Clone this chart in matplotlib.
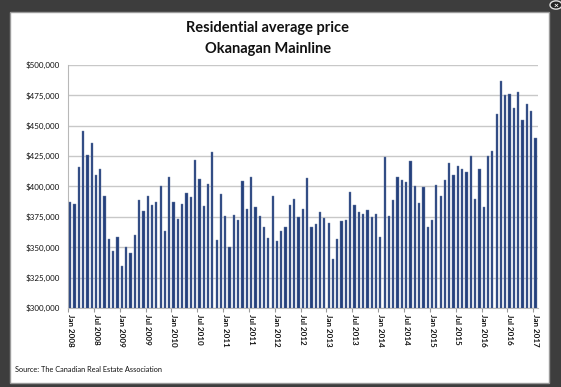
import matplotlib
matplotlib.use("Agg")
import matplotlib.pyplot as plt
from matplotlib.patches import Rectangle, Circle
from matplotlib.ticker import FuncFormatter, FixedLocator

# Monthly residential average price, Jan 2008 .. Jan 2017 (109 months)
prices = [
    386900, 385300, 416300, 445700, 426200, 435500, 409700, 414700, 392400, 356500, 347100, 358400,  # 2008
    334200, 349900, 345200, 359800, 389100, 380100, 392400, 384500, 387200, 400100, 363600, 408100,  # 2009
    387500, 373500, 385300, 394600, 391300, 422100, 406100, 384200, 402300, 428100, 355700, 393600,  # 2010
    375900, 350400, 376700, 372400, 404800, 381200, 408100, 382800, 375900, 366900, 357800, 392400,  # 2011
    355100, 363400, 366600, 385000, 390000, 375200, 381200, 407200, 366400, 369400, 378700, 374300,  # 2012
    370200, 340600, 356800, 371800, 372700, 395500, 384700, 379300, 377300, 380400, 374600, 377100,  # 2013
    358700, 424500, 375400, 389100, 407800, 405100, 404000, 421200, 400700, 386700, 399800, 366900,  # 2014
    372100, 401200, 392100, 405600, 419600, 409200, 416600, 414700, 412200, 424800, 390000, 414100,  # 2015
    383400, 425400, 429500, 459700, 486800, 475300, 476400, 464900, 477800, 454500, 467900, 461900,  # 2016
    439600,  # Jan 2017
]
months = ["Jan", "Feb", "Mar", "Apr", "May", "Jun", "Jul", "Aug", "Sep", "Oct", "Nov", "Dec"]
years = list(range(2008, 2018))
labels = [f"{months[i % 12]} {years[i // 12]}" for i in range(len(prices))]
yticks = [300000, 325000, 350000, 375000, 400000, 425000, 450000, 475000, 500000]
title_lines = ["Residential average price", "Okanagan Mainline"]
source = "Source: The Canadian Real Estate Association"

plt.rcParams['font.family'] = ['Lato', 'DejaVu Sans']

W, H = 561, 387
fig = plt.figure(figsize=(W / 100, H / 100), dpi=100, facecolor="#3d3d3d")

# white popup panel
fig.patches.append(Rectangle((10 / W, 1 - 383 / H), (549 - 10) / W, (383 - 12) / H,
                             transform=fig.transFigure, facecolor="white",
                             edgecolor="#9a9a9a", linewidth=1.0, zorder=-2))
# close button
fig.patches.append(Circle((556 / W, 1 - 5 / H), 6 / W, transform=fig.transFigure,
                          facecolor="#222222", edgecolor="#dddddd", linewidth=1.0, zorder=-1))
fig.text(556 / W, 1 - 5 / H, "×", color="white", fontsize=6, ha="center", va="center",
         fontweight="bold")

ax = fig.add_axes([68 / W, 1 - 308 / H, (538 - 68) / W, (308 - 65) / H], zorder=2)
ax.set_facecolor("none")
x = list(range(len(prices)))
ax.bar(x, prices, width=0.52, color="#24407c", edgecolor="#6d80a8", linewidth=0.3, zorder=3)

ax.set_ylim(300000, 500000)
ax.set_xlim(-0.5, len(prices) - 0.4)
ax.set_yticks(yticks)
ax.yaxis.set_major_formatter(FuncFormatter(lambda v, p: f"${v:,.0f}"))
ax.grid(axis="y", color="#c8c8c8", linewidth=1.0, zorder=0)
ax.set_axisbelow(True)
ax.tick_params(axis="y", length=0, labelsize=5.8, pad=6, labelcolor="#111111")

major = list(range(0, len(prices), 6))
ax.set_xticks(major)
ax.set_xticklabels([labels[i] for i in major], rotation=-90, fontsize=5.8,
                   fontweight="bold", color="#111111")
ax.tick_params(axis="x", which="major", length=0, pad=4)
ax.xaxis.set_minor_locator(FixedLocator([i - 0.5 for i in major]))
ax.tick_params(axis="x", which="minor", length=3, color="#9a9a9a", width=0.8)

for s in ["top", "right"]:
    ax.spines[s].set_visible(False)
for s in ["left", "bottom"]:
    ax.spines[s].set_color("#b8b8b8")
    ax.spines[s].set_linewidth(0.8)

fig.text(268 / W, 1 - 28 / H, title_lines[0], ha="center", va="center",
         fontsize=10.5, fontweight="bold", color="#111111")
fig.text(268 / W, 1 - 49 / H, title_lines[1], ha="center", va="center",
         fontsize=10.5, fontweight="bold", color="#111111")
fig.text(15 / W, 1 - 370 / H, source, ha="left", va="center", fontsize=5.3, color="#111111")

fig.savefig("out.png", dpi=100, facecolor=fig.get_facecolor())
